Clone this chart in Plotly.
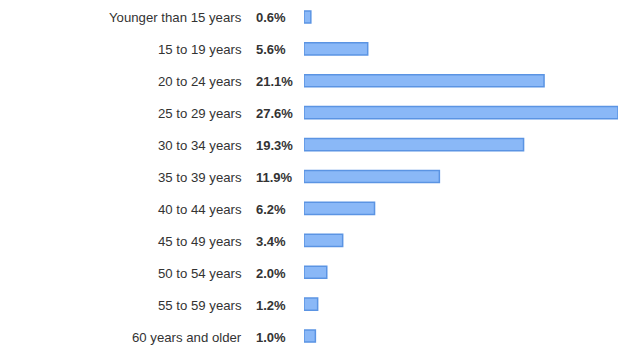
import plotly.graph_objects as go

categories = ["Younger than 15 years", "15 to 19 years", "20 to 24 years", "25 to 29 years",
              "30 to 34 years", "35 to 39 years", "40 to 44 years", "45 to 49 years",
              "50 to 54 years", "55 to 59 years", "60 years and older"]
values = [0.6, 5.6, 21.1, 27.6, 19.3, 11.9, 6.2, 3.4, 2.0, 1.2, 1.0]
value_labels = ["0.6%", "5.6%", "21.1%", "27.6%", "19.3%", "11.9%", "6.2%", "3.4%", "2.0%", "1.2%", "1.0%"]

fig = go.Figure(go.Bar(
    x=values, y=categories, orientation="h", width=0.38,
    marker=dict(color="#8ab8f7", line=dict(color="#5b94e3", width=1.5)),
    hoverinfo="skip",
))

annotations = []
for c, lab in zip(categories, value_labels):
    annotations.append(dict(x=0, y=c, xref="paper", yref="y", text=c, showarrow=False,
                            xanchor="right", xshift=-60, yshift=-1,
                            font=dict(family="Liberation Sans, Arial", size=13.2, color="#333333")))
    annotations.append(dict(x=0, y=c, xref="paper", yref="y", text="<b>" + lab + "</b>", showarrow=False,
                            xanchor="left", xshift=-50, yshift=-1,
                            font=dict(family="Liberation Sans, Arial", size=13, color="#333333")))

fig.update_layout(
    width=629, height=352,
    margin=dict(l=304, r=11, t=1, b=0),
    paper_bgcolor="white", plot_bgcolor="white",
    showlegend=False,
    xaxis=dict(range=[0, max(values)], visible=False, fixedrange=True),
    yaxis=dict(visible=False, fixedrange=True),
    annotations=annotations,
)
fig.update_yaxes(range=[10.5, -0.5], autorange=False)

fig.write_html("out.html")
